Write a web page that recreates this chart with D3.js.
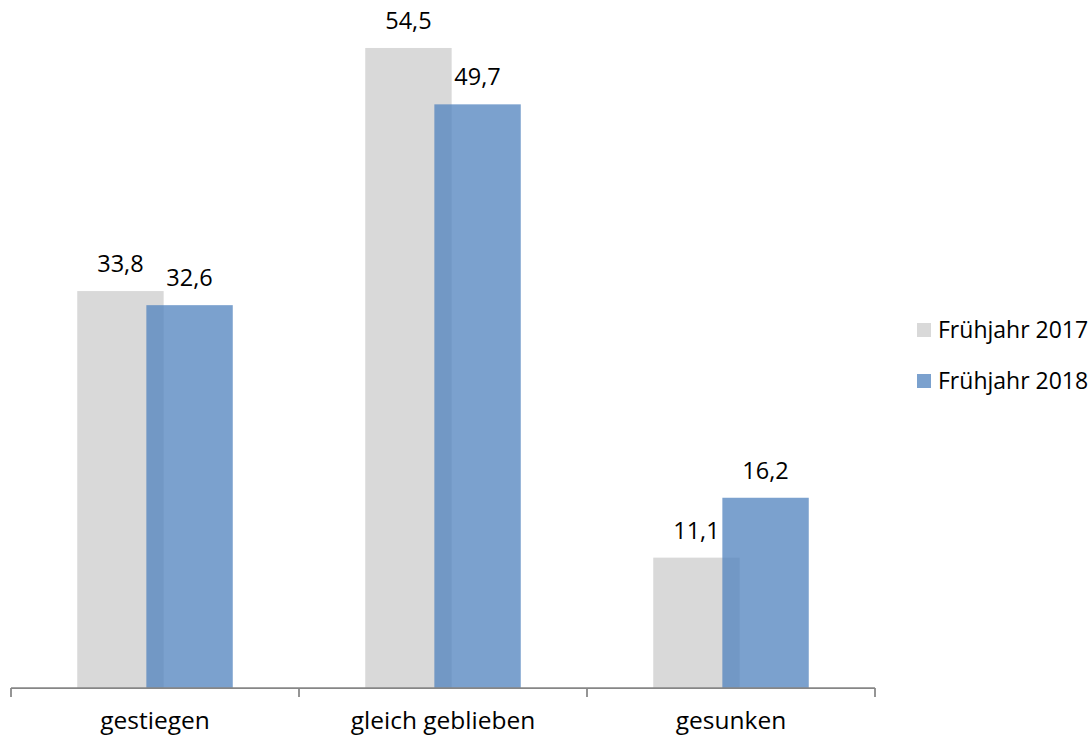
<!DOCTYPE html>
<html><head><meta charset="utf-8">
<script src="https://cdn.jsdelivr.net/npm/d3@7"></script>
<style>body{margin:0;background:#fff}svg{display:block}text{font-family:"Open Sans",sans-serif;fill:#000}</style>
</head><body>
<script>
const categories = ["gestiegen", "gleich geblieben", "gesunken"];
const seriesNames = ["Frühjahr 2017", "Frühjahr 2018"];
const values2017 = [33.8, 54.5, 11.1];
const values2018 = [32.6, 49.7, 16.2];
const seriesColors = ["#d9d9d9", "#4f81bd"];
const seriesOpacity = [1, 0.75];

const W = 1091, H = 735;
const svg = d3.select("body").append("svg").attr("width", W).attr("height", H);
const x = d3.scaleBand().domain(categories).range([11, 875]).padding(0);
const y = d3.scaleLinear().domain([0, 55]).range([688, 42.1]);
const bw = x.bandwidth() * 0.3;
const overlap = bw * 0.2;
const series = [values2017, values2018];
const fmt = v => d3.format(".1f")(v).replace(".", ",");

series.forEach((vals, s) => {
  const g = svg.append("g");
  categories.forEach((c, i) => {
    const cx = x(c) + x.bandwidth() / 2;
    const x0 = cx - (2 * bw - overlap) / 2 + s * (bw - overlap);
    g.append("rect").attr("x", x0).attr("width", bw)
      .attr("y", y(vals[i])).attr("height", y(0) - y(vals[i]))
      .attr("fill", seriesColors[s]).attr("fill-opacity", seriesOpacity[s]);
  });
});
series.forEach((vals, s) => {
  categories.forEach((c, i) => {
    const cx = x(c) + x.bandwidth() / 2;
    const x0 = cx - (2 * bw - overlap) / 2 + s * (bw - overlap);
    svg.append("text").attr("x", x0 + bw / 2).attr("y", y(vals[i]) - 19)
      .attr("text-anchor", "middle").attr("font-size", 23.5).text(fmt(vals[i]));
  });
});

// axis
const axis = svg.append("g").attr("transform", "translate(0,688)")
  .call(d3.axisBottom(x).tickSize(0).tickPadding(0).tickFormat(""));
axis.select(".domain").remove();
axis.append("line").attr("x1", 11).attr("x2", 875).attr("stroke", "#868686").attr("stroke-width", 1.75);
const edges = categories.map(c => x(c)).concat([x.range()[1]]);
axis.selectAll(".edge").data(edges).enter().append("line")
  .attr("x1", d => d).attr("x2", d => d).attr("y1", 0).attr("y2", 9)
  .attr("stroke", "#868686").attr("stroke-width", 1.75);
axis.selectAll(".tick").append("text").attr("y", 41).attr("text-anchor", "middle")
  .attr("font-size", 24.5).attr("fill", "#000").text(d => d);

// legend
const leg = svg.append("g");
seriesNames.forEach((n, i) => {
  const yy = 330 + i * 51;
  leg.append("rect").attr("x", 917).attr("y", yy - 7).attr("width", 14).attr("height", 14)
    .attr("fill", seriesColors[i]).attr("fill-opacity", seriesOpacity[i]);
  leg.append("text").attr("x", 938).attr("y", yy + 8).attr("font-size", 23).text(n);
});
</script>
</body></html>
